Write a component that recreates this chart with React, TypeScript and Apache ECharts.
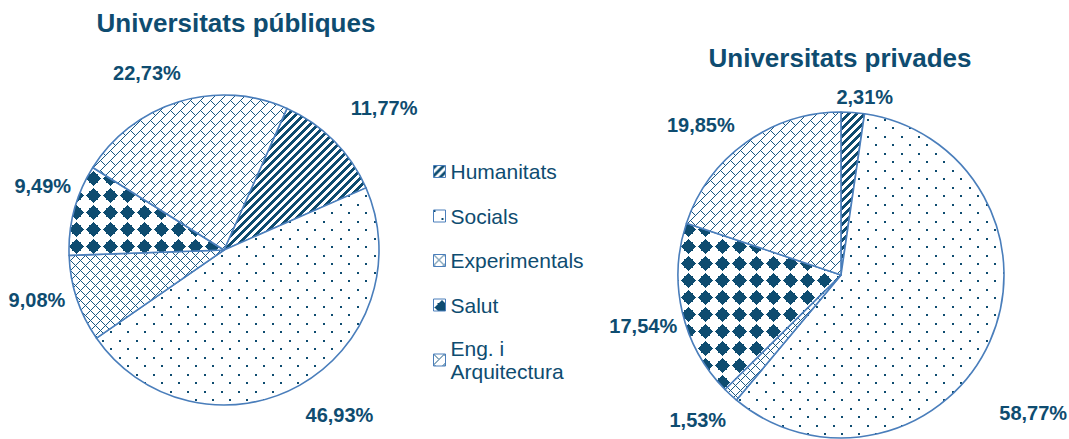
import React, { useEffect, useRef } from "react";
import * as echarts from "echarts";

const categories = ["Humanitats", "Socials", "Experimentals", "Salut", "Eng. i\nArquitectura"];
const publicValues = [11.77, 46.93, 9.08, 9.49, 22.73];
const privateValues = [2.31, 58.77, 1.53, 17.54, 19.85];
const titles = ["Universitats públiques", "Universitats privades"];

// small nudges of the value labels (px) away from the label ring, as in the reference
const publicLabelNudge = [[21, -4], [20, -6], [-1, -12], [8, -13], [-20, 11]];
const privateLabelNudge = [[9, 25], [6, 55], [-5, -5], [1, 5], [-21, 16]];

const DARK = "#0e4c70";
const LINE = "#1a5882";
const BORDER = "#4a7ebb";
const FONT = "'Liberation Sans', Arial, sans-serif";

const m = (a: number, n: number) => ((a % n) + n) % n;

function makeTile(size: number, test: (x: number, y: number) => boolean, color: string) {
  const c = document.createElement("canvas");
  c.width = size;
  c.height = size;
  const ctx = c.getContext("2d")!;
  ctx.fillStyle = "#ffffff";
  ctx.fillRect(0, 0, size, size);
  ctx.fillStyle = color;
  for (let y = 0; y < size; y++) {
    for (let x = 0; x < size; x++) {
      if (test(x, y)) ctx.fillRect(x, y, 1, 1);
    }
  }
  return { image: c, repeat: "repeat", imageWidth: size, imageHeight: size } as any;
}

function makePatterns() {
  const hum = makeTile(8, (x, y) => m(x + y, 8) < 4, DARK);
  const soc = makeTile(
    17,
    (x, y) => (x < 2 && y < 2) || (x >= 8 && x < 10 && y >= 8 && y < 10),
    DARK
  );
  const exp = makeTile(10, (x, y) => m(x + y, 10) === 0 || m(x - y, 10) === 0, LINE);
  const sal = makeTile(
    17,
    (x, y) => {
      const dx = Math.abs(x + 0.5 - 8.5);
      const dy = Math.abs(y + 0.5 - 8.5);
      return dx + dy <= 7.6 || Math.max(dx, dy) <= 4.6;
    },
    DARK
  );
  const eng = makeTile(
    20,
    (x, y) => {
      const s = m(x + y, 20);
      const t = m(x - y, 20);
      if (s % 10 === 0) return true;
      const band = s < 10 ? 0 : 1;
      return t === (band ? 10 : 0);
    },
    LINE
  );
  return [hum, soc, exp, sal, eng];
}

export default function App() {
  const ref = useRef<HTMLDivElement>(null);
  useEffect(() => {
    if (!ref.current) return;
    const chart = echarts.init(ref.current, undefined, { renderer: "svg" });
    const patterns = makePatterns();

    const pies = [
      { values: publicValues, nudge: publicLabelNudge, center: [224, 250], r: 155, startAngle: 66 },
      { values: privateValues, nudge: privateLabelNudge, center: [841, 275], r: 163, startAngle: 90 },
    ];

    const series: any[] = [];
    pies.forEach((p) => {
      series.push({
        type: "pie",
        center: p.center,
        radius: p.r,
        startAngle: p.startAngle,
        clockwise: true,
        silent: true,
        emphasis: { disabled: true },
        label: { show: false },
        labelLine: { show: false },
        itemStyle: { borderColor: BORDER, borderWidth: 1.6 },
        data: p.values.map((v, i) => ({
          name: categories[i],
          value: v,
          itemStyle: { color: patterns[i] },
        })),
      });
    });
    pies.forEach((p) => {
      series.push({
        type: "pie",
        center: p.center,
        radius: [p.r + 28, p.r + 48],
        startAngle: p.startAngle,
        clockwise: true,
        silent: true,
        legendHoverLink: false,
        emphasis: { disabled: true },
        itemStyle: { color: "rgba(0,0,0,0)", borderWidth: 0 },
        labelLine: { show: false },
        label: {
          show: true,
          position: "inside",
          overflow: "none",
          formatter: (q: any) => q.value.toFixed(2).replace(".", ",") + "%",
          fontSize: 20,
          fontWeight: "bold",
          fontFamily: FONT,
          color: DARK,
        },
        labelLayout: (q: any) => ({ dx: p.nudge[q.dataIndex][0], dy: p.nudge[q.dataIndex][1] }),
        data: p.values.map((v, i) => ({ name: categories[i], value: v })),
      });
    });

    chart.setOption({
      animation: false,
      backgroundColor: "#ffffff",
      title: [
        {
          text: titles[0],
          left: 231,
          top: 18,
          textAlign: "center",
          textVerticalAlign: "middle",
          textStyle: { fontSize: 26, fontWeight: "bold", color: DARK, fontFamily: FONT },
        },
        {
          text: titles[1],
          left: 835,
          top: 53,
          textAlign: "center",
          textVerticalAlign: "middle",
          textStyle: { fontSize: 26, fontWeight: "bold", color: DARK, fontFamily: FONT },
        },
      ],
      legend: {
        orient: "vertical",
        left: 428,
        top: 155,
        itemWidth: 12,
        itemHeight: 12,
        itemGap: 21.5,
        icon: "rect",
        selectedMode: false,
        itemStyle: { borderColor: BORDER, borderWidth: 1 },
        textStyle: { fontSize: 21, lineHeight: 23, color: DARK, fontFamily: FONT },
        data: categories.map((c, i) =>
          i === categories.length - 1
            ? { name: c, textStyle: { padding: [0, 0, -23, 0] } }
            : { name: c }
        ),
      },
      series,
    });
    return () => chart.dispose();
  }, []);
  return (
    <div
      ref={ref}
      style={{ position: "absolute", left: 0, top: 0, width: 1069, height: 439 }}
    />
  );
}
